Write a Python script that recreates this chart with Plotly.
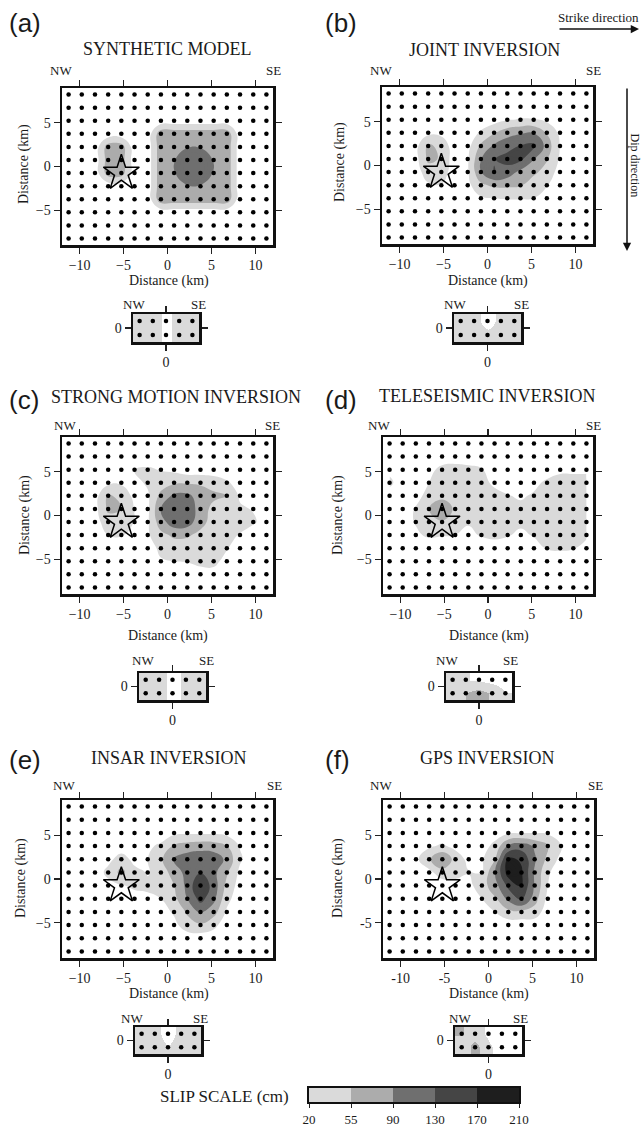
import plotly.graph_objects as go

W, H = 641, 1128

# ---------------- data ----------------
strike_km = [-11.25, -9.75, -8.25, -6.75, -5.25, -3.75, -2.25, -0.75,
             0.75, 2.25, 3.75, 5.25, 6.75, 8.25, 9.75, 11.25]
dip_km = [8.25, 6.75, 5.25, 3.75, 2.25, 0.75, -0.75, -2.25, -3.75, -5.25, -6.75, -8.25]
seg2_strike_km = [-3.0, -1.5, 0.0, 1.5, 3.0]
seg2_dip_km = [0.75, -0.75]
hypo_strike_km = [-5.25]
hypo_dip_km = [-0.75]
slip_levels = [20, 55, 90, 130, 170, 210]
slip_grays = ["#dadada", "#acacac", "#6f6f6f", "#454545", "#1e1e1e"]
strike_ticks = [-10, -5, 0, 5, 10]
dip_ticks = [-5, 0, 5]

panel_letters = ["(a)", "(b)", "(c)", "(d)", "(e)", "(f)"]
panel_titles = ["SYNTHETIC MODEL", "JOINT INVERSION", "STRONG MOTION INVERSION",
                "TELESEISMIC INVERSION", "INSAR INVERSION", "GPS INVERSION"]

Z = [0] * 16
slip_synthetic = [
    Z, Z, Z,
    [0, 0, 0, 0, 0, 0, 0, 78, 78, 78, 78, 78, 78, 0, 0, 0],
    [0, 0, 0, 72, 72, 0, 0, 78, 78, 88, 88, 78, 78, 0, 0, 0],
    [0, 0, 0, 72, 72, 0, 0, 78, 88, 110, 110, 88, 78, 0, 0, 0],
    [0, 0, 0, 72, 72, 0, 0, 78, 88, 110, 110, 88, 78, 0, 0, 0],
    [0, 0, 0, 0, 0, 0, 0, 78, 78, 88, 88, 78, 78, 0, 0, 0],
    [0, 0, 0, 0, 0, 0, 0, 78, 78, 78, 78, 78, 78, 0, 0, 0],
    Z, Z, Z,
]
slip_joint = [
    Z, Z,
    [0, 0, 0, 0, 0, 0, 0, 0, 5, 18, 22, 22, 12, 0, 0, 0],
    [0, 0, 0, 10, 10, 0, 0, 25, 52, 75, 85, 88, 52, 12, 0, 0],
    [0, 0, 5, 62, 45, 0, 8, 62, 95, 115, 132, 140, 75, 18, 0, 0],
    [0, 0, 5, 62, 52, 0, 15, 88, 128, 145, 140, 92, 58, 15, 0, 0],
    [0, 0, 0, 40, 40, 0, 15, 88, 132, 112, 80, 62, 42, 5, 0, 0],
    [0, 0, 0, 15, 18, 0, 10, 48, 62, 62, 58, 38, 22, 0, 0, 0],
    [0, 0, 0, 0, 0, 0, 0, 15, 20, 22, 22, 20, 8, 0, 0, 0],
    Z, Z, Z,
]
slip_strong = [
    Z, Z,
    [0, 0, 0, 0, 0, 22, 25, 18, 12, 0, 0, 0, 0, 0, 0, 0],
    [0, 0, 0, 12, 15, 10, 25, 38, 50, 52, 50, 42, 25, 5, 0, 0],
    [0, 0, 5, 60, 45, 10, 15, 65, 98, 98, 75, 62, 58, 15, 0, 0],
    [0, 0, 8, 62, 55, 18, 12, 90, 125, 118, 72, 45, 35, 25, 18, 0],
    [0, 0, 5, 40, 45, 18, 15, 75, 112, 108, 68, 40, 35, 30, 25, 5],
    [0, 0, 0, 20, 22, 12, 15, 45, 62, 60, 45, 35, 28, 18, 0, 0],
    [0, 0, 0, 0, 0, 0, 10, 25, 35, 35, 30, 30, 22, 5, 0, 0],
    [0, 0, 0, 0, 0, 0, 0, 18, 20, 22, 28, 28, 10, 0, 0, 0],
    [0, 0, 0, 0, 0, 0, 0, 0, 0, 0, 8, 10, 0, 0, 0, 0],
    Z,
]
slip_tele = [
    [15, 22, 10, 0, 0, 0, 0, 0, 0, 0, 0, 0, 0, 0, 0, 0],
    [5, 5, 0, 0, 5, 10, 10, 8, 0, 0, 0, 0, 0, 0, 0, 0],
    [15, 0, 0, 12, 28, 28, 25, 22, 5, 0, 0, 0, 0, 15, 15, 15],
    [25, 8, 0, 20, 30, 30, 32, 28, 15, 5, 0, 10, 28, 30, 30, 30],
    [10, 0, 12, 28, 40, 35, 25, 28, 28, 22, 15, 25, 30, 32, 30, 30],
    [10, 8, 22, 55, 95, 45, 25, 25, 25, 28, 30, 30, 30, 30, 28, 28],
    [5, 10, 22, 40, 50, 35, 22, 25, 25, 30, 25, 28, 28, 28, 30, 28],
    [22, 5, 15, 25, 22, 20, 15, 22, 25, 22, 15, 22, 28, 30, 30, 25],
    [5, 0, 0, 0, 0, 0, 0, 5, 10, 5, 0, 10, 22, 25, 22, 10],
    Z, Z, Z,
]
slip_insar = [
    Z, Z,
    [0, 0, 0, 0, 0, 0, 0, 5, 12, 15, 15, 15, 10, 0, 0, 0],
    [0, 0, 0, 0, 0, 0, 15, 25, 60, 70, 75, 72, 55, 18, 0, 0],
    [0, 0, 0, 10, 35, 10, 20, 48, 95, 110, 115, 112, 82, 25, 0, 0],
    [0, 0, 0, 30, 65, 30, 18, 30, 75, 100, 128, 100, 60, 12, 0, 0],
    [0, 0, 0, 8, 18, 25, 25, 30, 55, 100, 175, 110, 45, 5, 0, 0],
    [0, 0, 0, 0, 0, 10, 15, 20, 45, 90, 145, 100, 30, 0, 0, 0],
    [0, 0, 0, 0, 0, 0, 0, 5, 25, 60, 95, 70, 15, 0, 0, 0],
    [0, 0, 0, 0, 0, 0, 0, 0, 10, 40, 50, 30, 0, 0, 0, 0],
    Z, Z,
]
slip_gps = [
    Z, Z,
    [0, 0, 0, 0, 0, 0, 0, 0, 5, 15, 18, 18, 15, 5, 0, 0],
    [0, 0, 0, 15, 25, 10, 0, 5, 30, 95, 110, 85, 60, 22, 0, 0],
    [0, 0, 12, 50, 92, 40, 10, 15, 55, 178, 165, 95, 45, 10, 0, 0],
    [0, 0, 0, 10, 40, 35, 22, 20, 90, 190, 175, 85, 25, 0, 0, 0],
    [0, 0, 0, 0, 0, 5, 10, 40, 75, 140, 172, 85, 20, 0, 0, 0],
    [0, 0, 0, 0, 0, 0, 0, 20, 50, 100, 140, 70, 10, 0, 0, 0],
    [0, 0, 0, 0, 0, 0, 0, 0, 20, 45, 45, 40, 0, 0, 0, 0],
    Z, Z, Z,
]
main_slips = [slip_synthetic, slip_joint, slip_strong, slip_tele, slip_insar, slip_gps]

seg2_synthetic = [[35, 35, 12, 30, 35], [35, 35, 12, 30, 35]]
seg2_joint = [[30, 30, 8, 30, 30], [30, 30, 28, 30, 30]]
seg2_strong = [[30, 30, 10, 28, 30], [30, 30, 10, 28, 30]]
seg2_tele = [[25, 22, 15, 8, 5], [30, 55, 70, 50, 20]]
seg2_insar = [[30, 30, 8, 30, 30], [30, 30, 21, 30, 30]]
seg2_gps = [[58, 35, 12, 0, 0], [30, 70, 25, 5, 0]]
seg2_slips = [seg2_synthetic, seg2_joint, seg2_strong, seg2_tele, seg2_insar, seg2_gps]

# ---------------- layout geometry (pixels) ----------------
main_boxes = [(62, 273, 88, 245), (382, 593, 87, 244), (62, 273, 437, 594),
              (383, 593, 437, 594), (62, 273, 800, 958), (383, 594, 800, 958)]
small_boxes = [(133, 199, 314, 342), (454, 521, 314, 342), (139, 206, 673, 700),
               (446, 512, 673, 700), (135, 201, 1027, 1054), (455, 522, 1027, 1054)]
cbar_box = (309, 519, 1088, 1102)

SERIF = "Liberation Serif"
SANS = "Liberation Sans"
TXT = "#1a1a1a"

def px(x):
    return x / W

def py(y):
    return 1 - y / H

# colour scale for contour fill (size-5 levels between 20 and 210)
c_start, c_end, c_size = slip_levels[0], slip_levels[-1], 5
n_lev = int(round((c_end - c_start) / c_size)) + 1
def s_of(v):
    return (v - (c_start - c_size / 2)) / (n_lev * c_size)

contour_cs = [[0, "white"], [s_of(slip_levels[0]), "white"]]
for i, col in enumerate(slip_grays):
    contour_cs.append([s_of(slip_levels[i]), col])
    contour_cs.append([s_of(slip_levels[i + 1]) if i < len(slip_grays) - 1 else 1.0, col])

zmax_h = slip_levels[-1]
heat_cs = [[0, "white"], [slip_levels[0] / zmax_h, "white"]]
for i, col in enumerate(slip_grays):
    heat_cs.append([slip_levels[i] / zmax_h, col])
    heat_cs.append([slip_levels[i + 1] / zmax_h, col])

fig = go.Figure()
layout = {}

def axis_common():
    return dict(ticks="outside", ticklen=6, tickwidth=1.2, tickcolor="#222",
                showline=True, linewidth=2.5, linecolor="#111", mirror="ticks",
                showgrid=False, zeroline=False, fixedrange=True, automargin=False,
                tickfont=dict(family=SERIF, size=14, color=TXT))

grid_x = [sx for _ in dip_km for sx in strike_km]
grid_y = [dy for dy in dip_km for _ in strike_km]
g2_x = [sx for _ in seg2_dip_km for sx in seg2_strike_km]
g2_y = [dy for dy in seg2_dip_km for _ in seg2_strike_km]

annotations = []

def ann(text, x, y, size, family=SERIF, angle=0, xanchor="center"):
    annotations.append(dict(text=text, x=px(x), y=py(y), xref="paper", yref="paper",
                            showarrow=False, font=dict(family=family, size=size, color=TXT),
                            textangle=angle, xanchor=xanchor, yanchor="middle"))

for i in range(6):
    n = i + 1
    xa, ya = f"x{n}", f"y{n}"
    x0, x1, y0, y1 = main_boxes[i]
    fig.add_trace(go.Contour(
        x=strike_km, y=dip_km[::-1], z=main_slips[i][::-1],
        contours=dict(start=c_start, end=c_end, size=c_size, coloring="fill", showlines=False),
        colorscale=contour_cs, line=dict(width=0, smoothing=1.3), showscale=False,
        hoverinfo="skip", xaxis=xa, yaxis=ya))
    fig.add_trace(go.Scatter(x=grid_x, y=grid_y, mode="markers",
                             marker=dict(size=4.5, color="#000"), hoverinfo="skip",
                             xaxis=xa, yaxis=ya))
    fig.add_trace(go.Scatter(x=hypo_strike_km, y=hypo_dip_km, mode="markers",
                             marker=dict(symbol="star-open", size=27, color="#000",
                                         line=dict(width=1.5)),
                             hoverinfo="skip", xaxis=xa, yaxis=ya))
    xd = axis_common()
    xd.update(domain=[px(x0), px(x1)], range=[-12, 12], tickvals=strike_ticks, anchor=ya)
    yd = axis_common()
    yd.update(domain=[py(y1), py(y0)], range=[-9, 9], tickvals=dip_ticks, anchor=xa)
    if i == 5:
        xd.update(ticktext=[str(v) for v in strike_ticks])
        yd.update(ticktext=[str(v) for v in dip_ticks])
    layout["xaxis" + ("" if n == 1 else str(n))] = xd
    layout["yaxis" + ("" if n == 1 else str(n))] = yd

    # small secondary-segment panel
    m = n + 6
    xa2, ya2 = f"x{m}", f"y{m}"
    sx0, sx1, sy0, sy1 = small_boxes[i]
    fig.add_trace(go.Heatmap(x=seg2_strike_km, y=seg2_dip_km[::-1], z=seg2_slips[i][::-1],
                             zsmooth="best", zmin=0, zmax=zmax_h, colorscale=heat_cs,
                             showscale=False, hoverinfo="skip", xaxis=xa2, yaxis=ya2))
    fig.add_trace(go.Scatter(x=g2_x, y=g2_y, mode="markers",
                             marker=dict(size=4.5, color="#000"), hoverinfo="skip",
                             xaxis=xa2, yaxis=ya2))
    xd2 = axis_common()
    xd2.update(domain=[px(sx0), px(sx1)], range=[-3.75, 3.75], tickvals=[0], anchor=ya2)
    yd2 = axis_common()
    yd2.update(domain=[py(sy1), py(sy0)], range=[-1.5, 1.5], tickvals=[0], anchor=xa2)
    layout[f"xaxis{m}"] = xd2
    layout[f"yaxis{m}"] = yd2

# colour bar drawn as a heatmap strip
band_mid = [(slip_levels[k] + slip_levels[k + 1]) / 2 for k in range(len(slip_grays))]
fig.add_trace(go.Heatmap(x=[k + 0.5 for k in range(len(band_mid))], y=[0.5], z=[band_mid],
                         zmin=0, zmax=zmax_h, colorscale=heat_cs, showscale=False,
                         hoverinfo="skip", xaxis="x13", yaxis="y13"))
cx0, cx1, cy0, cy1 = cbar_box
layout["xaxis13"] = dict(domain=[px(cx0), px(cx1)], range=[0, len(band_mid)],
                         tickvals=list(range(len(slip_levels))),
                         ticktext=[str(v) for v in slip_levels],
                         ticks="outside", ticklen=4, tickwidth=1, tickcolor="#222",
                         showline=True, linewidth=2, linecolor="#111", mirror=True,
                         showgrid=False, zeroline=False, fixedrange=True, anchor="y13",
                         automargin=False,
                         tickfont=dict(family=SERIF, size=13, color=TXT))
layout["yaxis13"] = dict(domain=[py(cy1), py(cy0)], range=[0, 1], showticklabels=False,
                         ticks="", showline=True, linewidth=2, linecolor="#111", mirror=True,
                         showgrid=False, zeroline=False, fixedrange=True, anchor="x13",
                         automargin=False)

# ---------------- text ----------------
letter_pos = [(25, 23), (341, 23), (24, 400), (341, 400), (25, 760), (338, 760)]
title_pos = [(167, 49), (484, 50), (176, 397), (487, 396), (169, 758), (487, 758)]
nw_pos = [(61, 70), (381, 70), (65, 425), (379, 425), (64, 785), (381, 785)]
se_pos = [(273, 70), (593, 70), (272, 425), (593, 425), (274, 785), (595, 785)]
xt_pos = [(169, 281), (488, 281), (168, 636), (489, 636), (169, 994), (489, 994)]
yt_pos = [(24, 164), (340, 162), (25, 515), (338, 515), (21, 878), (338, 878)]
snw_pos = [(134, 305), (455, 305), (143, 660), (447, 660), (132, 1018), (460, 1018)]
sse_pos = [(198, 305), (521, 305), (206, 660), (510, 660), (201, 1018), (520, 1018)]

for i in range(6):
    ann(panel_letters[i], *letter_pos[i], 26, family=SANS)
    ann(panel_titles[i], *title_pos[i], 18)
    ann("NW", *nw_pos[i], 13)
    ann("SE", *se_pos[i], 13)
    ann("Distance (km)", *xt_pos[i], 14)
    ann("Distance (km)", *yt_pos[i], 14, angle=-90)
    ann("NW", *snw_pos[i], 13)
    ann("SE", *sse_pos[i], 13)

ann("SLIP SCALE (cm)", 225, 1096, 17)
ann("Strike direction", 598, 18, 13)
ann("Dip direction", 634.5, 165, 12, angle=90)

annotations.append(dict(x=px(639), y=py(29), xref="paper", yref="paper", text="",
                        showarrow=True, ax=-81, ay=0, arrowhead=2, arrowsize=1.1,
                        arrowwidth=1.5, arrowcolor="#111"))
annotations.append(dict(x=px(627), y=py(251), xref="paper", yref="paper", text="",
                        showarrow=True, ax=0, ay=-164, arrowhead=2, arrowsize=1.1,
                        arrowwidth=1.5, arrowcolor="#111"))

fig.update_layout(**layout)
fig.update_layout(template="none", width=W, height=H, autosize=False, showlegend=False,
                  margin=dict(l=0, r=0, t=0, b=0, pad=0, autoexpand=False),
                  paper_bgcolor="white", plot_bgcolor="white",
                  font=dict(family=SERIF, color=TXT),
                  annotations=annotations)

fig.write_html(
    "out.html",
    config={"displayModeBar": False, "staticPlot": True},
    post_script="document.body.style.margin='0';document.body.style.padding='0';"
                "document.body.style.overflow='hidden';"
                "document.documentElement.style.overflow='hidden';",
)
